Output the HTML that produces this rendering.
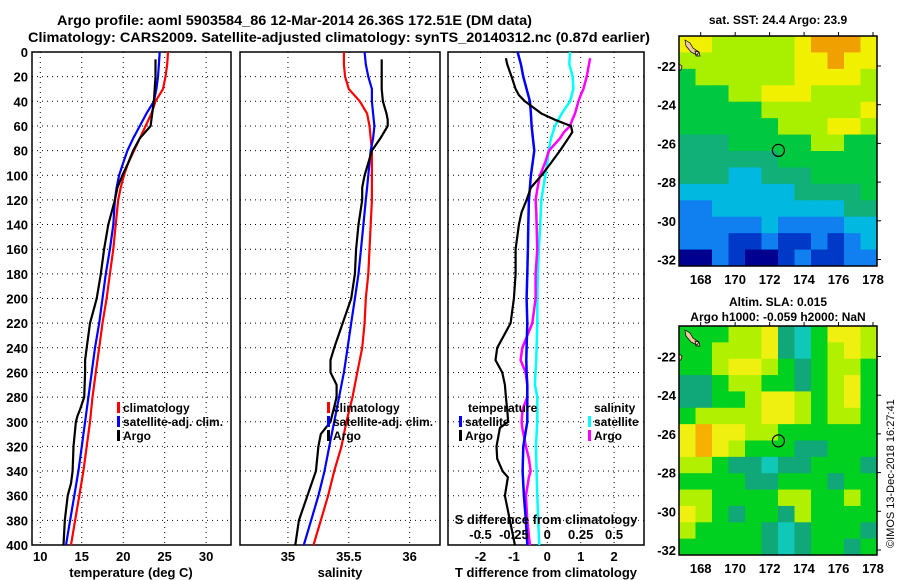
<!DOCTYPE html>
<html><head><meta charset="utf-8">
<style>
html,body{margin:0;padding:0;background:#fff;}
svg{display:block;font-family:"Liberation Sans",sans-serif;font-weight:bold;}
</style></head>
<body>
<svg id="fig" width="900" height="580" viewBox="0 0 900 580" xmlns="http://www.w3.org/2000/svg">
<text x="57" y="25" font-size="14" text-anchor="start" textLength="475" lengthAdjust="spacingAndGlyphs">Argo profile: aoml 5903584_86 12-Mar-2014 26.36S 172.51E (DM data)</text>
<text x="28" y="42" font-size="14" text-anchor="start" textLength="622" lengthAdjust="spacingAndGlyphs">Climatology: CARS2009. Satellite-adjusted climatology: synTS_20140312.nc (0.87d earlier)</text>
<g id="g1"></g>
<g id="g2"></g>
<g id="g3"></g>
<g id="m1"></g>
<g id="m2"></g>
<text x="0" y="0" font-size="11" font-weight="normal" transform="translate(894,548) rotate(-90)">©IMOS 13-Dec-2018 16:27:41</text>
</svg>
<script>
// ---- data ----
const depthClim = [0,10,20,30,40,50,60,70,80,90,100,110,120,140,160,180,200,220,240,260,280,300,320,340,360,380,400];
const climT = [25.4,25.3,25.1,24.8,23.9,23.4,22.7,22.0,21.3,20.6,20.1,19.7,19.4,19.1,18.8,18.4,18.0,17.5,17.1,16.7,16.3,16.0,15.6,15.2,14.7,14.2,13.7];
const satT = [24.4,24.3,24.2,24.0,23.7,22.8,22.0,21.2,20.5,20.0,19.5,19.2,19.0,18.8,18.4,17.9,17.5,17.1,16.6,16.2,15.8,15.4,15.0,14.6,14.1,13.6,13.1];
const argoDepthT = [6,20,30,40,50,60,70,80,90,100,110,120,140,160,180,200,210,220,240,250,260,280,290,295,300,320,340,350,360,380,400];
const argoT = [23.9,23.9,23.8,23.7,23.5,23.3,22.0,21.2,20.6,19.9,19.3,19.0,18.2,17.7,17.3,16.8,16.4,16.0,15.6,15.4,15.4,15.3,14.8,14.5,14.3,14.0,13.9,13.7,13.3,12.96,12.8];
const climS = [35.46,35.46,35.47,35.50,35.59,35.65,35.67,35.68,35.69,35.69,35.69,35.69,35.69,35.68,35.67,35.66,35.64,35.63,35.61,35.57,35.53,35.48,35.44,35.38,35.33,35.27,35.21];
const satS = [35.63,35.64,35.66,35.69,35.69,35.70,35.71,35.70,35.68,35.67,35.66,35.65,35.64,35.62,35.60,35.58,35.55,35.52,35.49,35.46,35.42,35.38,35.34,35.30,35.25,35.19,35.13];
const argoDepthS = [6,20,30,40,50,55,60,70,80,90,100,110,120,140,160,180,200,220,240,250,260,270,280,300,310,320,340,360,380,400];
const argoS = [35.77,35.77,35.77,35.78,35.81,35.82,35.82,35.76,35.69,35.66,35.63,35.61,35.61,35.58,35.56,35.55,35.52,35.45,35.38,35.35,35.35,35.40,35.40,35.35,35.27,35.25,35.23,35.16,35.09,35.06];
const diffDepth = [0,10,20,30,40,50,60,70,80,90,100,110,120,140,160,180,200,220,240,250,260,270,280,290,300,320,340,360,380,400];
const satTdiff = [-0.89,-0.79,-0.72,-0.62,-0.52,-0.49,-0.47,-0.43,-0.39,-0.44,-0.49,-0.52,-0.55,-0.57,-0.58,-0.6,-0.62,-0.6,-0.62,-0.63,-0.62,-0.6,-0.6,-0.6,-0.6,-0.72,-0.74,-0.7,-0.64,-0.6];
const satSdiff = [0.17,0.165,0.19,0.195,0.17,0.108,0.058,0.028,0.01,0,-0.015,-0.03,-0.045,-0.053,-0.063,-0.07,-0.075,-0.075,-0.08,-0.083,-0.088,-0.093,-0.075,-0.075,-0.075,-0.085,-0.08,-0.075,-0.068,-0.06];
const argoDiffDepth = [5,10,20,30,35,40,50,55,60,65,70,80,90,100,110,120,130,140,160,180,200,220,230,240,250,260,270,280,290,300,305,320,330,340,345,360,380,400];
const argoTdiff = [-1.24,-1.2,-1.07,-0.95,-0.85,-0.67,-0.17,0.23,0.71,0.75,0.63,0.38,0.11,-0.17,-0.49,-0.62,-0.77,-0.85,-0.95,-0.95,-1.0,-1.1,-1.3,-1.5,-1.55,-1.35,-1.27,-1.24,-1.2,-1.17,-1.42,-1.52,-1.5,-1.34,-1.18,-1.27,-1.12,-0.97];
const argoSdiff = [0.32,0.3125,0.295,0.27,0.25,0.2325,0.2075,0.1875,0.17,0.125,0.095,0.0125,-0.0175,-0.055,-0.0725,-0.0875,-0.0825,-0.08,-0.075,-0.0875,-0.0875,-0.1125,-0.15,-0.1875,-0.2,-0.1625,-0.15,-0.15,-0.185,-0.1925,-0.1875,-0.16,-0.1375,-0.125,-0.1375,-0.16,-0.15,-0.13];
const depthTicks = [0,20,40,60,80,100,120,140,160,180,200,220,240,260,280,300,320,340,360,380,400];
const tTicks = [10,15,20,25,30];
const sTicks = [35,35.5,36];
const tdTicks = [-2,-1,0,1,2];
const sdTicks = [-0.5,-0.25,0,0.25,0.5];
const sdTickLabels = ["-0.5","-0.25","0","0.25","0.5"];
const lonTicks = [168,170,172,174,176,178];
const latTicks = [-22,-24,-26,-28,-30,-32];
const sstGrid = [
[8,8,7,7,7,7,7,8,9,9,9,8],
[7,7,7,7,7,7,7,8,8,9,8,8],
[6,7,7,7,7,7,7,8,8,8,8,7],
[6,6,6,7,7,8,8,8,7,7,7,7],
[6,6,6,6,6,7,7,7,7,7,7,8],
[6,6,6,6,6,6,7,7,7,8,8,7],
[5,5,5,6,6,6,6,6,7,7,6,6],
[5,5,5,5,5,5,6,6,6,6,6,6],
[5,5,5,4,4,5,5,5,6,6,6,6],
[4,4,4,4,4,4,4,5,5,5,5,6],
[3,3,4,4,4,4,4,4,4,4,5,5],
[3,3,3,3,3,4,3,3,3,3,4,4],
[3,3,3,2,2,3,2,2,3,2,3,4],
[1,1,3,2,1,1,2,3,2,2,3,3]];
const slaGrid = [
[6,6,6,7,7,8,5,4,6,8,8,7],
[6,6,7,7,7,8,5,4,6,7,8,7],
[6,6,7,8,8,7,6,5,6,7,7,6],
[5,5,6,7,7,6,6,5,6,7,8,6],
[5,5,6,6,7,8,8,7,6,7,8,6],
[6,7,7,7,7,8,8,7,6,7,7,6],
[8,9,8,8,7,7,6,6,6,6,6,6],
[8,9,8,7,6,6,6,5,5,6,6,6],
[7,7,6,5,5,4,5,5,6,6,6,5],
[6,6,6,6,5,5,6,6,6,5,6,6],
[7,7,6,6,6,6,7,7,6,6,7,6],
[8,7,6,5,6,6,5,7,6,6,6,6],
[7,6,6,6,6,5,4,5,6,6,6,5],
[6,6,6,6,6,5,4,5,6,6,5,6]];
const argoLon = 172.51, argoLat = -26.36;

// ---- helpers ----
const NS='http://www.w3.org/2000/svg';
function mk(parent,tag,attrs,txt){const e=document.createElementNS(NS,tag);for(const k in attrs)e.setAttribute(k,attrs[k]);if(txt!==undefined)e.textContent=txt;parent.appendChild(e);return e;}
const TOP=52, BOT=545;
const yD = d => TOP + d*(BOT-TOP)/400;
const xT = t => 32 + (t-9)*(231-32)/24;
const xS = s => 240 + (s-34.606)*121.7;
const xTd = d => 547.3 + d*33.4;
const xSd = s => 547.3 + s*4*33.4;

function panel(g,x0,x1,name){
  const r=mk(g,'rect',{x:x0,y:TOP,width:x1-x0,height:BOT-TOP,fill:'#fff',stroke:'#000','stroke-width':1.5});
  
  
  depthTicks.forEach(d=>{
    if(d>0&&d<400){
      const l=mk(g,'line',{x1:x0,x2:x1,y1:yD(d),y2:yD(d),stroke:'#000','stroke-width':1,'stroke-dasharray':'1,4'});
      
      
    }
  });
}
function vgrid(g,xs,name){
  xs.forEach(x=>{
    const l=mk(g,'line',{x1:x,x2:x,y1:TOP,y2:BOT,stroke:'#000','stroke-width':1,'stroke-dasharray':'1,4'});
    
    
  });
}
function line(g,xs,ys,fx,color,w,name){
  const pts=xs.map((v,i)=>fx(v).toFixed(1)+','+yD(ys[i]).toFixed(1)).join(' ');
  const p=mk(g,'polyline',{points:pts,fill:'none',stroke:color,'stroke-width':w,'stroke-linejoin':'round'});
  
  
}
function txt(g,x,y,s,anchor,size,name){
  const t=mk(g,'text',{x:x,y:y,'text-anchor':anchor||'middle','font-size':size||13},s);
  
  
  return t;
}
function legendItem(g,x,y,color,label,name){
  const m=mk(g,'rect',{x:x,y:y-10,width:3,height:11,fill:color});
  
  
  txt(g,x+6,y,label,'start',12,name+'-label');
}

// ---- panel 1: temperature ----
const g1=document.getElementById('g1');
panel(g1,32,231,'temperature');
vgrid(g1,tTicks.map(xT),'temperature-gridline');
depthTicks.forEach(d=>txt(g1,28,yD(d)+5,String(d),'end',13,'depth-tick-label'));
tTicks.forEach(t=>txt(g1,xT(t),561,String(t),'middle',13,'temperature-tick-label'));
txt(g1,131,577,'temperature (deg C)','middle',13,'temperature-axis-title');
line(g1,climT,depthClim,xT,'#f00',2.2,'climatology-temperature-line');
line(g1,satT,depthClim,xT,'#00f',2.2,'satellite-temperature-line');
line(g1,argoT,argoDepthT,xT,'#000',2.2,'argo-temperature-line');
legendItem(g1,117,412,'#f00','climatology','legend-climatology');
legendItem(g1,117,426,'#00f','satellite-adj. clim.','legend-satellite');
legendItem(g1,117,440,'#000','Argo','legend-argo');

// ---- panel 2: salinity ----
const g2=document.getElementById('g2');
panel(g2,240,440,'salinity');
vgrid(g2,sTicks.map(xS),'salinity-gridline');
sTicks.forEach(s=>txt(g2,xS(s),561,String(s),'middle',13,'salinity-tick-label'));
txt(g2,340,577,'salinity','middle',13,'salinity-axis-title');
line(g2,climS,depthClim,xS,'#f00',2.2,'climatology-salinity-line');
line(g2,satS,depthClim,xS,'#00f',2.2,'satellite-salinity-line');
line(g2,argoS,argoDepthS,xS,'#000',2.2,'argo-salinity-line');
legendItem(g2,327,412,'#f00','climatology','legend-climatology');
legendItem(g2,327,426,'#00f','satellite-adj. clim.','legend-satellite');
legendItem(g2,327,440,'#000','Argo','legend-argo');

// ---- panel 3: differences ----
const g3=document.getElementById('g3');
panel(g3,448,644,'difference');
vgrid(g3,tdTicks.map(xTd),'difference-gridline');
line(g3,satSdiff,diffDepth,xSd,'#0ff',2.5,'satellite-salinity-diff-line');
line(g3,argoSdiff,argoDiffDepth,xSd,'#f0f',2.5,'argo-salinity-diff-line');
line(g3,satTdiff,diffDepth,xTd,'#00f',2.5,'satellite-temperature-diff-line');
line(g3,argoTdiff,argoDiffDepth,xTd,'#000',2.2,'argo-temperature-diff-line');
txt(g3,468,412,'temperature','start',12,'legend-temperature-header');
legendItem(g3,459,426,'#00f','satellite','legend-temp-satellite');
legendItem(g3,459,440,'#000','Argo','legend-temp-argo');
txt(g3,594,412,'salinity','start',12,'legend-salinity-header');
legendItem(g3,588,426,'#0ff','satellite','legend-sal-satellite');
legendItem(g3,588,440,'#f0f','Argo','legend-sal-argo');
txt(g3,546,524,'S difference from climatology','middle',13,'s-difference-axis-title');
sdTicks.forEach((s,i)=>txt(g3,xSd(s),539,sdTickLabels[i],'middle',13,'s-difference-tick-label'));
tdTicks.forEach(t=>txt(g3,xTd(t),561,String(t),'middle',13,'t-difference-tick-label'));
txt(g3,546,577,'T difference from climatology','middle',13,'t-difference-axis-title');

// ---- maps ----
const MX0=679, MX1=877;
const xLon = lon => 700.7 + (lon-168)*17.23;
const sstCol = {1:'#000090',2:'#0038c8',3:'#1080f0',4:'#00b8e0',5:'#10b078',6:'#00c840',7:'#a8f000',8:'#f0f000',9:'#f0a000'};
const slaCol = {4:'#10c8b8',5:'#10a878',6:'#00d020',7:'#b0f000',8:'#f0f010',9:'#f8b000'};
function drawMap(g,grid,cols,top,bot,lat22y,title1,title2,mapName){
  const yLat = lat => lat22y + (-22-lat)*19.35;
  const rows=grid.length, nc=grid[0].length;
  const cw=(MX1-MX0)/nc, ch=(bot-top)/rows;
  grid.forEach((row,r)=>row.forEach((v,c)=>{
    const cell=mk(g,'rect',{x:(MX0+c*cw).toFixed(2),y:(top+r*ch).toFixed(2),width:(cw+0.5).toFixed(2),height:(ch+0.5).toFixed(2),fill:cols[v]});
    
    
  }));
  const isl=mk(g,'path',{d:`M${MX0+6},${top+4} l5,3 l3,5 l6,4 l-2,3 l-6,-3 l-5,-6 z M${MX0+16},${top+15} l4,1 l1,4 l-4,0 z M${MX0},${top+28} l3,2 l-1,4 l-2,0 z`,fill:'#f0c8a0',stroke:'#000','stroke-width':0.7});
  
  
  const fr=mk(g,'rect',{x:MX0,y:top,width:MX1-MX0,height:bot-top,fill:'none',stroke:'#000','stroke-width':1.5});
  
  
  const circ=mk(g,'circle',{cx:xLon(argoLon),cy:yLat(argoLat),r:6,fill:'none',stroke:'#000','stroke-width':1.2});
  
  
  latTicks.forEach(l=>{
    txt(g,676,yLat(l)+5,String(l),'end',13,mapName+'-lat-label');
    mk(g,'line',{x1:MX1,x2:MX1+4,y1:yLat(l),y2:yLat(l),stroke:'#000'});
  });
  lonTicks.forEach(l=>{
    txt(g,xLon(l),bot+18,String(l),'middle',13,mapName+'-lon-label');
    mk(g,'line',{x1:xLon(l),x2:xLon(l),y1:top-4,y2:top,stroke:'#000'});
  });
  if(title2){txt(g,778,top-20,title1,'middle',12,mapName+'-title-1');txt(g,778,top-5,title2,'middle',12,mapName+'-title-2');}
  else txt(g,778,top-12,title1,'middle',12,mapName+'-title');
}
drawMap(document.getElementById('m1'),sstGrid,sstCol,36,266,66,'sat. SST: 24.4 Argo: 23.9',null,'sst-map');
drawMap(document.getElementById('m2'),slaGrid,slaCol,326,555,356.5,'Altim. SLA: 0.015','Argo h1000: -0.059 h2000: NaN','sla-map');
</script>
</body></html>
